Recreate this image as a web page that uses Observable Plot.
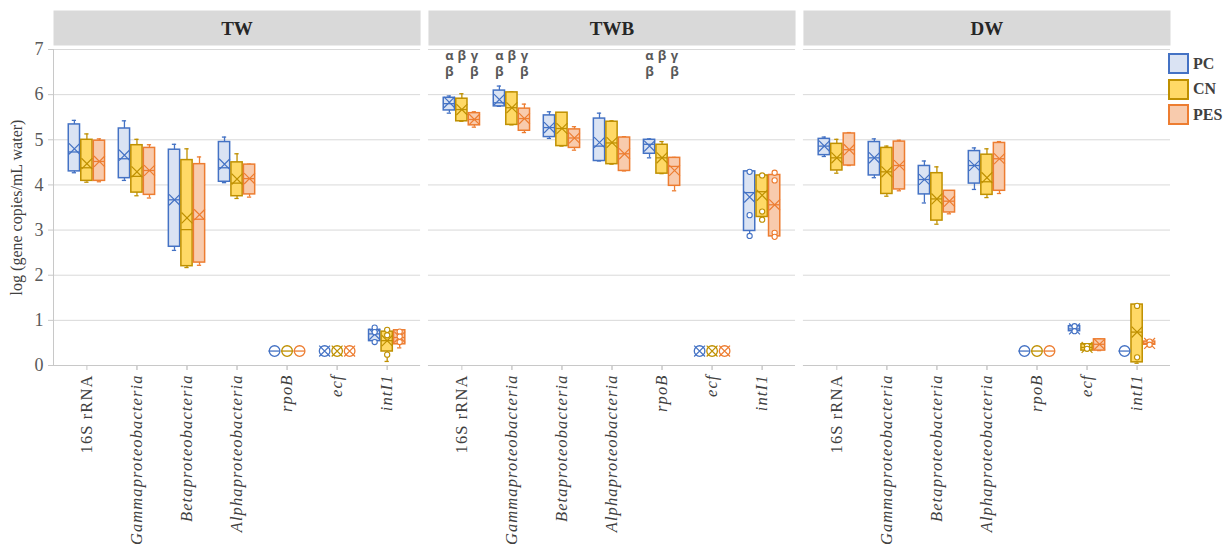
<!DOCTYPE html>
<html>
<head>
<meta charset="utf-8">
<script src="https://cdn.jsdelivr.net/npm/d3@7"></script>
<script src="https://cdn.jsdelivr.net/npm/@observablehq/plot@0.6"></script>
<style>
  body { margin: 0; background: white; }
  #wrap { position: relative; width: 1225px; height: 547px; overflow: hidden; }
  #legend { position: absolute; left: 1168px; top: 51px; font: bold 16px "Liberation Serif", serif; color: #404040; }
  #legend .row { display: flex; align-items: center; height: 25.5px; }
  #legend .sw { width: 21px; height: 21px; box-sizing: border-box; border: 2px solid; margin-right: 4px; }
  g[aria-label="x-axis tick label"] text { letter-spacing: 1.1px; }
</style>
</head>
<body>
<div id="wrap"></div>
<script>
// ---------- data ----------
const panels = ["TW", "TWB", "DW"];
const genes = ["16S rRNA", "Gammaproteobacteria", "Betaproteobacteria", "Alphaproteobacteria", "rpoB", "ecf", "intI1"];
const materials = ["PC", "CN", "PES"];
const strokeColors = ["#4472c4", "#bf9000", "#ed7d31"];
const fillColors = ["#dae3f3", "#ffd966", "#f8cbad"];
const yTicks = [0, 1, 2, 3, 4, 5, 6, 7];

// per gene: [whisker low, Q1, median, Q3, whisker high, mean]  (null = not drawn)
const TW_PC = [
  [4.27, 4.30, 4.73, 5.34, 5.43, 4.80],
  [4.10, 4.15, 4.58, 5.25, 5.42, 4.66],
  [2.55, 2.63, 3.67, 4.78, 4.90, 3.67],
  [4.05, 4.07, 4.38, 4.95, 5.06, 4.46],
  [0.32, null, 0.32, null, 0.32, null],
  [0.32, null, null, null, 0.32, 0.32],
  [0.52, 0.54, 0.70, 0.79, 0.85, 0.69]
];
const TW_CN = [
  [4.06, 4.09, 4.38, 5.00, 5.13, 4.47],
  [3.76, 3.83, 4.19, 4.88, 5.01, 4.29],
  [2.17, 2.20, 3.01, 4.55, 4.80, 3.27],
  [3.70, 3.75, 4.04, 4.50, 4.69, 4.13],
  [0.32, null, 0.32, null, 0.32, null],
  [0.32, null, null, null, 0.32, 0.32],
  [0.09, 0.31, 0.55, 0.75, 0.80, 0.55]
];
const TW_PES = [
  [4.07, 4.09, 4.52, 4.98, 5.02, 4.52],
  [3.71, 3.78, 4.32, 4.82, 4.89, 4.32],
  [2.22, 2.28, 3.24, 4.46, 4.62, 3.34],
  [3.73, 3.79, 4.14, 4.45, 4.46, 4.14],
  [0.32, null, 0.32, null, 0.32, null],
  [0.32, null, null, null, 0.32, 0.32],
  [0.39, 0.47, 0.62, 0.78, 0.78, 0.63]
];
const TWB_PC = [
  [5.59, 5.65, 5.80, 5.93, 5.97, 5.83],
  [5.74, 5.74, 5.82, 6.09, 6.19, 5.89],
  [5.03, 5.06, 5.27, 5.54, 5.62, 5.27],
  [4.53, 4.53, 4.86, 5.47, 5.59, 4.94],
  [4.60, 4.69, 4.90, 5.00, 5.02, 4.86],
  [0.32, null, null, null, 0.32, 0.32],
  [2.87, 2.98, 3.83, 4.30, 4.30, 3.73]
];
const TWB_CN = [
  [5.41, 5.41, 5.67, 5.91, 6.02, 5.67],
  [5.33, 5.33, 5.71, 6.05, 6.06, 5.71],
  [4.86, 4.86, 5.25, 5.60, 5.60, 5.25],
  [4.46, 4.46, 4.93, 5.40, 5.42, 4.94],
  [4.25, 4.25, 4.60, 4.89, 4.96, 4.60],
  [0.32, null, null, null, 0.32, 0.32],
  [3.23, 3.29, 3.85, 4.21, 4.21, 3.77]
];
const TWB_PES = [
  [5.28, 5.32, 5.45, 5.59, 5.62, 5.45],
  [5.16, 5.20, 5.47, 5.69, 5.79, 5.47],
  [4.77, 4.82, 5.04, 5.23, 5.29, 5.04],
  [4.31, 4.31, 4.69, 5.05, 5.07, 4.69],
  [3.87, 3.98, 4.41, 4.60, 4.61, 4.32],
  [0.32, null, null, null, 0.32, 0.32],
  [2.85, 2.86, 3.56, 4.22, 4.27, 3.56]
];
const DW_PC = [
  [4.63, 4.66, 4.86, 5.02, 5.06, 4.86],
  [4.16, 4.21, 4.60, 4.95, 5.02, 4.60],
  [3.60, 3.79, 4.12, 4.42, 4.53, 4.12],
  [3.90, 4.03, 4.43, 4.75, 4.82, 4.43],
  [0.32, null, 0.32, null, 0.32, null],
  [0.74, 0.76, 0.81, 0.87, 0.89, 0.81],
  [0.32, null, 0.32, null, 0.32, null]
];
const DW_CN = [
  [4.26, 4.32, 4.60, 4.91, 5.01, 4.60],
  [3.75, 3.80, 4.29, 4.82, 4.86, 4.29],
  [3.13, 3.21, 3.69, 4.26, 4.40, 3.69],
  [3.72, 3.78, 4.07, 4.67, 4.80, 4.16],
  [0.32, null, 0.32, null, 0.32, null],
  [0.33, 0.33, 0.40, 0.47, 0.48, 0.40],
  [0.05, 0.07, 0.74, 1.35, 1.35, 0.74]
];
const DW_PES = [
  [4.43, 4.43, 4.78, 5.14, 5.16, 4.78],
  [3.87, 3.90, 4.43, 4.96, 4.99, 4.43],
  [3.36, 3.39, 3.64, 3.87, 3.87, 3.64],
  [3.81, 3.87, 4.58, 4.93, 4.96, 4.58],
  [0.32, null, 0.32, null, 0.32, null],
  [0.33, 0.33, 0.47, 0.58, 0.59, 0.47],
  [0.44, 0.46, 0.49, 0.53, 0.55, 0.49]
];

// individual points shown as small circles: [panel, gene, material, values]
const pointSets = [
  ["TW", "intI1", "PC", [0.84, 0.74, 0.52]],
  ["TW", "intI1", "CN", [0.79, 0.67, 0.24]],
  ["TW", "intI1", "PES", [0.75, 0.64, 0.52]],
  ["TWB", "intI1", "PC", [4.29, 3.33, 2.87]],
  ["TWB", "intI1", "CN", [4.21, 3.41, 3.23]],
  ["TWB", "intI1", "PES", [4.27, 4.10, 2.94, 2.85]],
  ["DW", "ecf", "PC", [0.87, 0.76]],
  ["DW", "ecf", "CN", [0.43, 0.37]],
  ["DW", "intI1", "CN", [1.32, 0.18]],
  ["DW", "intI1", "PES", [0.53, 0.46]]
];

// significance letters (TWB panel)
const annotGenes = ["16S rRNA", "Gammaproteobacteria", "rpoB"];
const annotRow1 = ["α", "β", "γ"];
const annotRow2 = ["β", "", "β"];
const annotY = [6.86, 6.5];

// ---------- build tables ----------
const key = (g, m) => g + "|" + m;
const xDomain = genes.flatMap((g, i) => {
  const ks = materials.map(m => key(g, m));
  return i < genes.length - 1 ? [...ks, key(g, "_")] : ks;
});
const series = {
  TW: [TW_PC, TW_CN, TW_PES],
  TWB: [TWB_PC, TWB_CN, TWB_PES],
  DW: [DW_PC, DW_CN, DW_PES]
};
const boxes = panels.flatMap(p => materials.flatMap((m, mi) =>
  series[p][mi].map((s, gi) => ({
    panel: p, material: m, gene: genes[gi], key: key(genes[gi], m),
    lo: s[0], q1: s[1], median: s[2], q3: s[3], hi: s[4], mean: s[5],
    stroke: strokeColors[mi], fill: fillColors[mi]
  }))));
const whiskers = boxes.filter(d => d.lo != null && d.hi > d.lo);
const boxed = boxes.filter(d => d.q1 != null);
const singles = boxes.filter(d => d.q1 == null && d.lo != null);
const points = pointSets.flatMap(([p, g, m, vals]) => vals.map(v => ({
  panel: p, key: key(g, m), value: v, stroke: strokeColors[materials.indexOf(m)]
})));
const annots = annotGenes.flatMap(g => materials.flatMap((m, mi) => [
  {panel: "TWB", key: key(g, m), y: annotY[0], text: annotRow1[mi]},
  {panel: "TWB", key: key(g, m), y: annotY[1], text: annotRow2[mi]}
])).filter(d => d.text);

const serif = "Liberation Serif, Times New Roman, serif";
const plotAreaH = 547 - 49 - 182;

const chart = Plot.plot({
  width: 1225,
  height: 547,
  marginLeft: 53,
  marginRight: 55,
  marginTop: 49,
  marginBottom: 182,
  style: {fontFamily: serif, background: "white", overflow: "visible"},
  fx: {domain: panels, paddingInner: 0.021, paddingOuter: 0, round: false, axis: null, label: null},
  x: {type: "band", domain: xDomain, paddingInner: 0.1, paddingOuter: 1.22, round: false, axis: null},
  y: {domain: [0, 7], axis: null},
  color: {type: "identity"},
  marks: [
    // facet header strip
    Plot.frame({fill: "#d9d9d9", stroke: "none", insetTop: -39, insetBottom: plotAreaH + 4}),
    Plot.text(panels, {fx: d => d, text: d => d, frameAnchor: "top", lineAnchor: "middle", dy: -21,
      fontSize: 19, fontWeight: "bold", fill: "#262626", fontFamily: serif}),
    Plot.gridY(yTicks.filter(t => t > 0), {stroke: "#d9d9d9", strokeOpacity: 1}),
    Plot.ruleY([0], {stroke: "#c8c8c8"}),
    Plot.frame({anchor: "left", facetAnchor: "left", stroke: "#c8c8c8"}),
    Plot.axisY({ticks: yTicks, tickSize: 5, tickPadding: 5, tickFormat: d => String(d), fontSize: 18, label: null,
      stroke: "#c8c8c8", fill: "#595959"}),
    Plot.axisY({ticks: [], tickSize: 0, label: "log (gene copies/mL water)", labelAnchor: "center",
      labelArrow: "none", labelOffset: 43, fontSize: 16, fill: "#404040"}),
    Plot.axisX({ticks: genes.map(g => key(g, "CN")), tickSize: 5, tickPadding: 4, tickRotate: -90,
      tickFormat: d => d === key(genes[0], "CN") ? genes[0] : "", fontSize: 16.5, label: null,
      stroke: "#c8c8c8", fill: "#404040"}),
    Plot.axisX({ticks: genes.slice(1).map(g => key(g, "CN")), tickSize: 5, tickPadding: 4, tickRotate: -90,
      tickFormat: d => d.split("|")[0], fontSize: 16.5, fontStyle: "italic", label: null,
      stroke: "#c8c8c8", fill: "#404040"}),
    // whiskers and caps
    Plot.ruleX(whiskers, {fx: "panel", x: "key", y1: "lo", y2: "hi", stroke: "stroke", strokeWidth: 1.3}),
    Plot.tickY(whiskers, {fx: "panel", x: "key", y: "lo", stroke: "stroke", strokeWidth: 1.3, insetLeft: 3.5, insetRight: 3.5}),
    Plot.tickY(whiskers, {fx: "panel", x: "key", y: "hi", stroke: "stroke", strokeWidth: 1.3, insetLeft: 3.5, insetRight: 3.5}),
    // boxes
    Plot.barY(boxed, {fx: "panel", x: "key", y1: "q1", y2: "q3", fill: "fill", stroke: "stroke", strokeWidth: 1.5}),
    // single-value markers
    Plot.dot(singles, {fx: "panel", x: "key", y: "lo", r: 5.3, stroke: "stroke", fill: "white", strokeWidth: 1.3}),
    // median
    Plot.tickY(boxes.filter(d => d.median != null), {fx: "panel", x: "key", y: "median", stroke: "stroke", strokeWidth: 1.3}),
    // mean
    Plot.dot(boxes.filter(d => d.mean != null), {fx: "panel", x: "key", y: "mean", symbol: "times", r: 5,
      stroke: "stroke", strokeWidth: 1.2}),
    // points
    Plot.dot(points, {fx: "panel", x: "key", y: "value", r: 2.6, stroke: "stroke", fill: "white", strokeWidth: 1.1}),
    // significance letters
    Plot.text(annots, {fx: "panel", x: "key", y: "y", text: "text", fontSize: 13, fontWeight: "bold",
      fontFamily: "Open Sans, DejaVu Sans, sans-serif", fill: "#595959"})
  ]
});

const wrap = document.getElementById("wrap");
wrap.appendChild(chart);

// legend
const legend = document.createElement("div");
legend.id = "legend";
materials.forEach((m, i) => {
  const row = document.createElement("div");
  row.className = "row";
  const sw = document.createElement("span");
  sw.className = "sw";
  sw.style.background = fillColors[i];
  sw.style.borderColor = strokeColors[i];
  row.appendChild(sw);
  row.appendChild(document.createTextNode(m));
  legend.appendChild(row);
});
wrap.appendChild(legend);
</script>
</body>
</html>
